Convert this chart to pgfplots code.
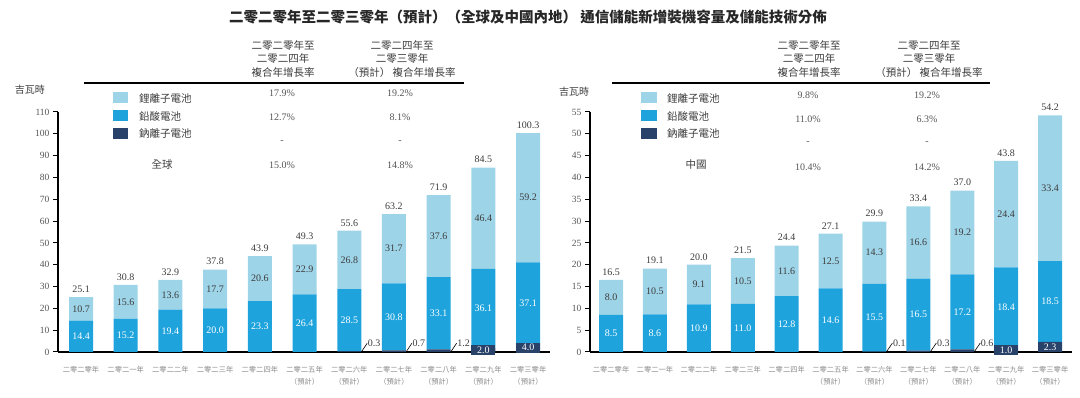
\documentclass[border=0pt]{standalone}
\usepackage{pgfplots}
\pgfplotsset{compat=1.18}
\usepackage{pgfplotstable}
\usepackage{fontspec}
\setmainfont{Liberation Serif}
\newfontfamily\cjk{Noto Sans CJK TC}
\definecolor{li}{HTML}{9ED4E8}
\definecolor{pb}{HTML}{1EA3DC}
\definecolor{na}{HTML}{29426A}
\definecolor{txt}{HTML}{3C3C3C}
\definecolor{tk}{HTML}{555555}
\definecolor{xl}{HTML}{8A8A8A}

% x na pb li tot
\pgfplotstableread{
x na pb li tot
0 0 14.4 10.7 25.1
1 0 15.2 15.6 30.8
2 0 19.4 13.6 32.9
3 0 20.0 17.7 37.8
4 0 23.3 20.6 43.9
5 0 26.4 22.9 49.3
6 0.3 28.5 26.8 55.6
7 0.7 30.8 31.7 63.2
8 1.2 33.1 37.6 71.9
9 2.0 36.1 46.4 84.5
10 4.0 37.1 59.2 100.3
}\glob
\pgfplotstableread{
x na pb li tot
0 0 8.5 8.0 16.5
1 0 8.6 10.5 19.1
2 0 10.9 9.1 20.0
3 0 11.0 10.5 21.5
4 0 12.8 11.6 24.4
5 0 14.6 12.5 27.1
6 0.1 15.5 14.3 29.9
7 0.3 16.5 16.6 33.4
8 0.6 17.2 19.2 37.0
9 1.0 18.4 24.4 43.8
10 2.3 18.5 33.4 54.2
}\china
\pgfplotstableread{
x na
6 0.3
7 0.7
8 1.2
}\glosmall
\pgfplotstableread{
x na
9 2.0
10 4.0
}\globox
\pgfplotstableread{
x na
6 0.1
7 0.3
8 0.6
}\chsmall
\pgfplotstableread{
x na
9 1.0
10 2.3
}\chbox

\pgfplotsset{
  base/.style={scale only axis, height=240pt, ymin=0, clip=false},
  panel/.style={
    base, axis lines=left, axis line style={-, line width=1.6pt, black},
    ybar stacked, bar width=24pt,
    tick align=outside, major tick length=5pt,
    ytick style={black, line width=1pt},
    xtick style={draw=none},
    xtick={0,...,10},
    xticklabels={二零二零年,二零二一年,二零二二年,二零二三年,二零二四年,{二零二五年\\（預計）},{二零二六年\\（預計）},{二零二七年\\（預計）},{二零二八年\\（預計）},{二零二九年\\（預計）},{二零三零年\\（預計）}},
    xticklabel style={font=\cjk\fontsize{7.3}{12}\selectfont, text=xl, align=center, yshift=-6pt},
    yticklabel style={font=\fontsize{9.5}{11}\selectfont, text=tk},
    /pgf/number format/assume math mode=true,
  },
  over/.style={base, hide axis},
  lab/.style={draw=none, mark=none, nodes near coords, point meta=explicit symbolic,
    nodes near coords align=center},
}

\begin{document}
\begin{tikzpicture}[x=1pt,y=1pt]
\useasboundingbox (0,0) rectangle (1080,398);

% ---------------- left panel ----------------
\begin{axis}[panel, at={(58pt,46pt)}, anchor=south west, width=492pt,
  xmin=-0.515, xmax=10.49, ymax=110, ytick={0,10,...,110}]
\addplot[fill=na, draw=none] table[x=x,y=na] {\glob};
\addplot[fill=pb, draw=none] table[x=x,y=pb] {\glob};
\addplot[fill=li, draw=none] table[x=x,y=li] {\glob};
\end{axis}
\begin{axis}[over, at={(58pt,46pt)}, anchor=south west, width=492pt,
  xmin=-0.515, xmax=10.49, ymax=110]
\addplot[lab, every node near coord/.append style={font=\fontsize{10}{12}\selectfont, text=white, anchor=center}]
  table[x=x, y expr=\thisrow{na}+0.5*\thisrow{pb}, meta=pb] {\glob};
\addplot[lab, every node near coord/.append style={font=\fontsize{10}{12}\selectfont, text=txt, anchor=center}]
  table[x=x, y expr=\thisrow{na}+\thisrow{pb}+0.5*\thisrow{li}, meta=li] {\glob};
\addplot[lab, every node near coord/.append style={font=\fontsize{10}{12}\selectfont, text=txt, anchor=south, yshift=1pt}]
  table[x=x, y=tot, meta=tot] {\glob};
\addplot[black, line width=0.6pt, quiver={u=0.13, v=4}] table[x expr=\thisrow{x}+0.27, y expr=0] {\glosmall};
\addplot[lab, every node near coord/.append style={font=\fontsize{10}{12}\selectfont, text=txt, anchor=west, inner sep=0.5pt}]
  table[x expr=\thisrow{x}+0.40, y expr=4, meta=na] {\glosmall};
\addplot[lab, every node near coord/.append style={font=\fontsize{10}{12}\selectfont, text=white, fill=na, anchor=center, minimum width=24pt, minimum height=10pt, inner sep=0.5pt}]
  table[x=x, y expr=0.5*\thisrow{na}, meta=na] {\globox};
\end{axis}

% ---------------- right panel ----------------
\begin{axis}[panel, at={(590pt,46pt)}, anchor=south west, width=482pt,
  xmin=-0.48, xmax=10.5, ymax=55, ytick={0,5,...,55}]
\addplot[fill=na, draw=none] table[x=x,y=na] {\china};
\addplot[fill=pb, draw=none] table[x=x,y=pb] {\china};
\addplot[fill=li, draw=none] table[x=x,y=li] {\china};
\end{axis}
\begin{axis}[over, at={(590pt,46pt)}, anchor=south west, width=482pt,
  xmin=-0.48, xmax=10.5, ymax=55]
\addplot[lab, every node near coord/.append style={font=\fontsize{10}{12}\selectfont, text=white, anchor=center}]
  table[x=x, y expr=\thisrow{na}+0.5*\thisrow{pb}, meta=pb] {\china};
\addplot[lab, every node near coord/.append style={font=\fontsize{10}{12}\selectfont, text=txt, anchor=center}]
  table[x=x, y expr=\thisrow{na}+\thisrow{pb}+0.5*\thisrow{li}, meta=li] {\china};
\addplot[lab, every node near coord/.append style={font=\fontsize{10}{12}\selectfont, text=txt, anchor=south, yshift=1pt}]
  table[x=x, y=tot, meta=tot] {\china};
\addplot[black, line width=0.6pt, quiver={u=0.14, v=2.06}] table[x expr=\thisrow{x}+0.27, y expr=0] {\chsmall};
\addplot[lab, every node near coord/.append style={font=\fontsize{10}{12}\selectfont, text=txt, anchor=west, inner sep=0.5pt}]
  table[x expr=\thisrow{x}+0.41, y expr=2.06, meta=na] {\chsmall};
\addplot[lab, every node near coord/.append style={font=\fontsize{10}{12}\selectfont, text=white, fill=na, anchor=center, minimum width=24pt, minimum height=10pt, inner sep=0.5pt}]
  table[x=x, y expr=0.5*\thisrow{na}, meta=na] {\chbox};
\end{axis}

% ---------------- title ----------------
\node[font=\cjk\bfseries\fontsize{14.5}{16}\selectfont, text=black!85] at (528,381)
  {二零二零年至二零三零年（預計）（全球及中國內地） 通信儲能新增裝機容量及儲能技術分佈};

% ---------------- headers / legends ----------------
\tikzset{hd/.style={font=\cjk\fontsize{10.5}{13.5}\selectfont, text=txt, align=center},
  lg/.style={font=\cjk\fontsize{10.5}{12}\selectfont, text=txt, anchor=west, inner sep=0pt},
  vl/.style={font=\fontsize{10}{12}\selectfont, text=tk, inner sep=0pt}}

% left
\node[hd] at (283,339) {二零二零年至\\二零二四年\\複合年增長率};
\node[hd] at (402,339) {二零二四年至\\二零三零年\\（預計） 複合年增長率};
\draw[line width=1.5pt] (84,315) -- (464,315);
\fill[li] (113,295) rectangle (128,306);
\fill[pb] (113,276.5) rectangle (128,287.5);
\fill[na] (113,258.5) rectangle (128,269.5);
\node[lg] at (139,300) {鋰離子電池};
\node[lg] at (139,282) {鉛酸電池};
\node[lg] at (139,264) {鈉離子電池};
\node[font=\cjk\fontsize{10.5}{12}\selectfont, text=txt] at (162,233) {全球};
\node[vl] at (282,305) {17.9\%};
\node[vl] at (282,281) {12.7\%};
\node[vl] at (282,256) {-};
\node[vl] at (282,233) {15.0\%};
\node[vl] at (400,305) {19.2\%};
\node[vl] at (400,281) {8.1\%};
\node[vl] at (400,256) {-};
\node[vl] at (400,233) {14.8\%};
\node[font=\cjk\fontsize{10}{12}\selectfont, text=txt] at (30,308) {吉瓦時};

% right
\node[hd] at (809,339) {二零二零年至\\二零二四年\\複合年增長率};
\node[hd] at (929,339) {二零二四年至\\二零三零年\\（預計） 複合年增長率};
\draw[line width=1.5pt] (612,315) -- (990,315);
\fill[li] (641,295) rectangle (657,306);
\fill[pb] (641,276.5) rectangle (657,287.5);
\fill[na] (641,258.5) rectangle (657,269.5);
\node[lg] at (667,300) {鋰離子電池};
\node[lg] at (667,282) {鉛酸電池};
\node[lg] at (667,264) {鈉離子電池};
\node[font=\cjk\fontsize{10.5}{12}\selectfont, text=txt] at (696,233) {中國};
\node[vl] at (808,303) {9.8\%};
\node[vl] at (808,279) {11.0\%};
\node[vl] at (808,255) {-};
\node[vl] at (808,231) {10.4\%};
\node[vl] at (927,303) {19.2\%};
\node[vl] at (927,279) {6.3\%};
\node[vl] at (927,255) {-};
\node[vl] at (927,231) {14.2\%};
\node[font=\cjk\fontsize{10}{12}\selectfont, text=txt] at (574,306) {吉瓦時};
\end{tikzpicture}
\end{document}
